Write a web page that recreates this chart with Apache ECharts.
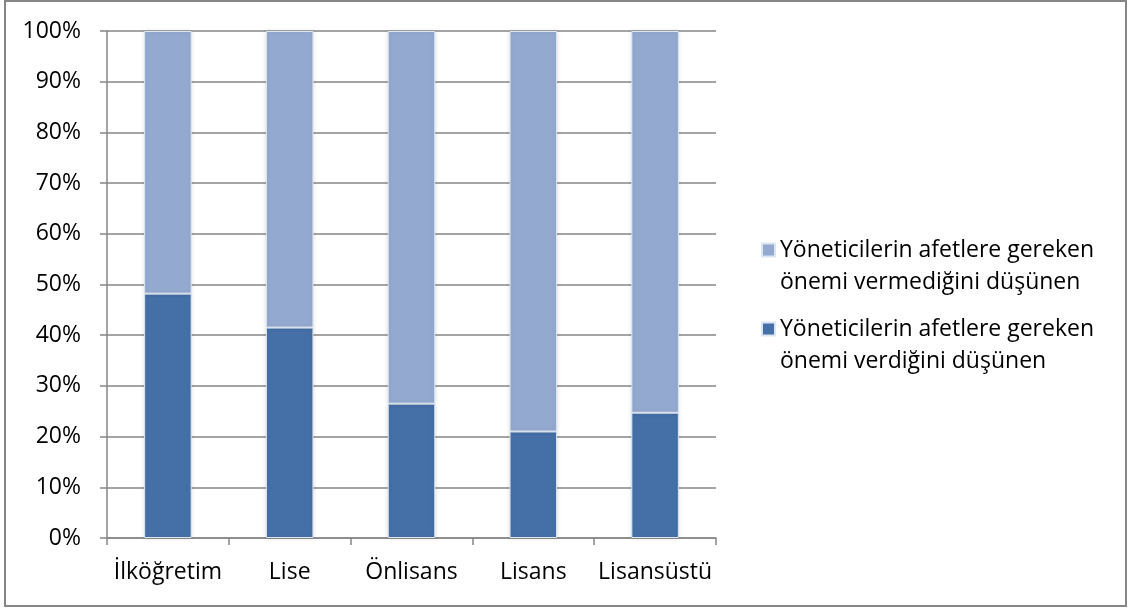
<!DOCTYPE html>
<html><head><meta charset="utf-8">
<script src="https://cdn.jsdelivr.net/npm/echarts@6/dist/echarts.min.js"></script>
<style>html,body{margin:0;padding:0;background:#fff}#c{width:1128px;height:608px}</style>
</head><body><div id="c"></div>
<script>
const categories = ['İlköğretim', 'Lise', 'Önlisans', 'Lisans', 'Lisansüstü'];
const verdigi = [48.2, 41.5, 26.5, 21.0, 24.7];
const vermedigi = [51.8, 58.5, 73.5, 79.0, 75.3];
const seriesNames = ['Yöneticilerin afetlere gereken\nönemi verdiğini düşünen', 'Yöneticilerin afetlere gereken\nönemi vermediğini düşünen'];
const FONT = 'Open Sans';
const FS = 23;
function legendOf(name, top) {
  return {
    orient: 'vertical', left: 756, top: top, itemWidth: 13, itemHeight: 13,
    data: [name], icon: 'rect',
    formatter: n => '\n' + n,
    textStyle: {fontFamily: FONT, fontSize: FS, color: '#000', lineHeight: 32}
  };
}
const chart = echarts.init(document.getElementById('c'), null, {renderer: 'canvas'});
chart.setOption({
  animation: false,
  backgroundColor: '#fff',
  textStyle: {fontFamily: FONT},
  graphic: [{type: 'rect', shape: {x: 5, y: 1, width: 1121, height: 605}, style: {fill: 'none', stroke: '#868686', lineWidth: 2}, silent: true}],
  grid: {left: 107, right: 412, top: 31, bottom: 70},
  legend: [legendOf(seriesNames[1], 197), legendOf(seriesNames[0], 276)],
  xAxis: {
    type: 'category', data: categories,
    axisLine: {lineStyle: {color: '#868686', width: 1.5}},
    axisTick: {show: true, length: 7, lineStyle: {color: '#868686', width: 1.5}},
    axisLabel: {fontFamily: FONT, fontSize: FS, color: '#000', margin: 23, interval: 0}
  },
  yAxis: {
    type: 'value', min: 0, max: 100, interval: 10,
    axisLine: {show: true, lineStyle: {color: '#868686', width: 1.5}},
    axisTick: {show: true, length: 7, lineStyle: {color: '#868686', width: 1.5}},
    axisLabel: {fontFamily: FONT, fontSize: FS, color: '#000', margin: 26, formatter: '{value}%'},
    splitLine: {lineStyle: {color: '#868686', width: 1.5}}
  },
  series: [
    {name: seriesNames[0], type: 'bar', stack: 'a', data: verdigi, barWidth: '39%',
     itemStyle: {color: '#4570A7', borderColor: '#dce6f2', borderWidth: 1, shadowColor: 'rgba(0,0,0,0.12)', shadowBlur: 4}},
    {name: seriesNames[1], type: 'bar', stack: 'a', data: vermedigi, barWidth: '39%',
     itemStyle: {color: '#94A9CF', borderColor: '#dce6f2', borderWidth: 1, shadowColor: 'rgba(0,0,0,0.12)', shadowBlur: 4}}
  ]
});
</script></body></html>
